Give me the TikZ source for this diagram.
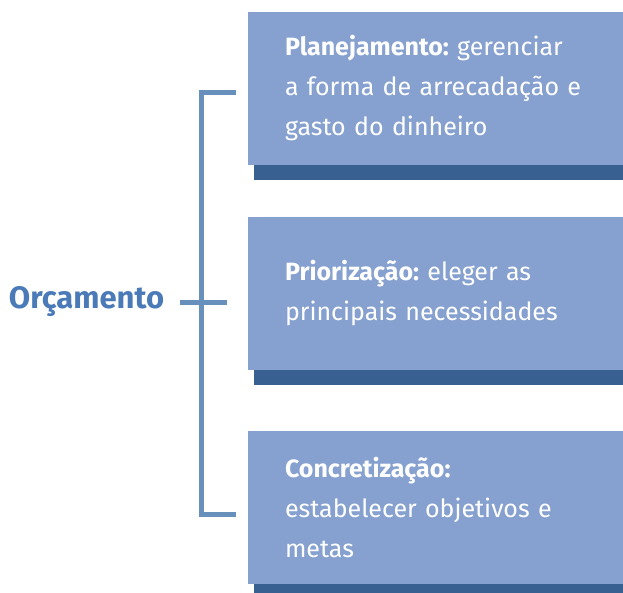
\documentclass[tikz,border=0pt]{standalone}
\usepackage{fontspec}
\setmainfont{Fira Sans}
\usetikzlibrary{shadows}
\definecolor{boxfill}{RGB}{134,161,207}
\definecolor{boxshade}{RGB}{56,96,144}
\definecolor{bracket}{RGB}{104,144,188}
\definecolor{title}{RGB}{74,122,183}
\frenchspacing

\begin{document}
\begin{tikzpicture}[x=1pt,y=1pt]
\useasboundingbox (0,0) rectangle (623,593);
\tikzstyle{every node}=[inner sep=0pt]
\tikzstyle{item}=[rectangle,fill=boxfill,text=white,minimum width=375pt,minimum height=153pt,text width=301pt,align=left,font=\fontsize{25}{40}\selectfont,drop shadow={shadow xshift=6pt,shadow yshift=-15pt,fill=boxshade,opacity=1}]
%\tikzstyle{item}=[rectangle,fill=boxfill,text=white,rounded corners]
\node[item] (p) at (435.5,504.5) {\textbf{Planejamento:} gerenciar\\a forma de arrecadação e\\gasto do dinheiro};
\node[item] (r) at (435.5,299.5) {\textbf{Priorização:} eleger as\\principais necessidades};
\node[item] (c) at (435.5,85.5) {\textbf{Concretização:}\\estabelecer objetivos e\\metas};
\node[text=title,font=\fontsize{31}{36}\selectfont\bfseries] (o) at (86.5,291) {Orçamento};
\coordinate (top) at (236,500.5);
\coordinate (mid) at (201,290);
\coordinate (bot) at (236,78);
\coordinate (tick) at (180,290);
\tikzstyle{every path}=[draw=bracket,line width=5pt]
\draw (top) -| (mid) |- (bot);
\draw (tick) -- ([xshift=-21pt]r.west |- tick);
\end{tikzpicture}
\end{document}
